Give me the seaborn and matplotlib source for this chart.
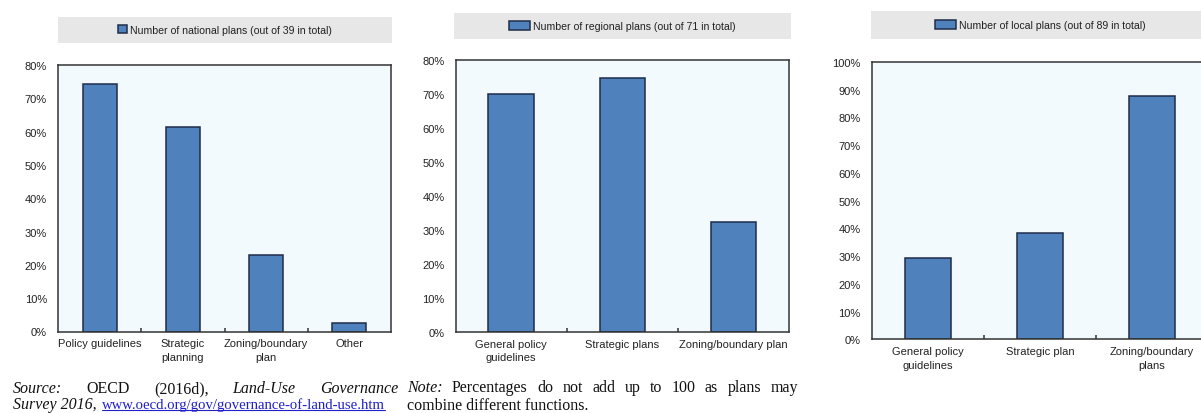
import matplotlib
matplotlib.use("Agg")
import matplotlib.pyplot as plt
import seaborn as sns
import pandas as pd
from matplotlib.patches import Rectangle
from matplotlib.lines import Line2D
from matplotlib.ticker import PercentFormatter

# Share of plans by function (%)
national_cats = ["Policy guidelines", "Strategic\nplanning", "Zoning/boundary\nplan", "Other"]
national_vals = [74.4, 61.5, 23.1, 2.6]
national_label = "Number of national plans (out of 39 in total)"

regional_cats = ["General policy\nguidelines", "Strategic plans", "Zoning/boundary plan"]
regional_vals = [69.9, 74.6, 32.4]
regional_label = "Number of regional plans (out of 71 in total)"

local_cats = ["General policy\nguidelines", "Strategic plan", "Zoning/boundary\nplans"]
local_vals = [29.2, 38.2, 87.6]
local_label = "Number of local plans (out of 89 in total)"

sns.set_theme(style="white")
plt.rcParams["font.family"] = ["Liberation Sans", "DejaVu Sans"]

W, H = 1201, 414
fig = plt.figure(figsize=(W / 100, H / 100), dpi=100)
fig.patch.set_facecolor("white")
renderer = fig.canvas.get_renderer()

BAR = "#4F81BD"
EDGE = "#1E2D4A"
FACE = "#F3FAFE"
BAND = "#E7E7E7"
FS = 8
LEG_FS = 7.6


def px_axes(left, right, top, bottom):
    return fig.add_axes([left / W, 1 - bottom / H, (right - left) / W, (bottom - top) / H])


def panel(ax, cats, vals, label, ymax, ystep, band, handle):
    df = pd.DataFrame({"cat": cats, "val": vals})
    sns.barplot(data=df, x="cat", y="val", ax=ax, color=BAR, width=0.41,
                edgecolor=EDGE, linewidth=1.1, label=label, saturation=1)
    ax.set_facecolor(FACE)
    ax.set_xlim(-0.5, len(cats) - 0.5)
    ax.set_ylim(0, ymax)
    ax.set_yticks(range(0, ymax + 1, ystep))
    ax.yaxis.set_major_formatter(PercentFormatter(decimals=0))
    ax.set_xlabel("")
    ax.set_ylabel("")
    for s in ax.spines.values():
        s.set_color("#333333")
        s.set_linewidth(1.1)
    ax.tick_params(axis="y", length=0, pad=8, labelsize=FS, labelcolor="#222222")
    ax.tick_params(axis="x", which="major", length=0, pad=5, labelsize=FS, labelcolor="#222222")
    for t in ax.get_xticklabels():
        t.set_linespacing(1.45)
    ax.set_xticks([i + 0.5 for i in range(len(cats) - 1)], minor=True)
    ax.tick_params(axis="x", which="minor", direction="in", length=3, width=1.1,
                   color="#333333", bottom=True)

    # grey legend band above the plot area
    bl, br, bt, bb = band
    fig.patches.append(Rectangle((bl / W, 1 - bb / H), (br - bl) / W, (bb - bt) / H,
                                 transform=fig.transFigure, facecolor=BAND,
                                 edgecolor="none", zorder=-5))
    ax_center = (bl + br) / 2
    leg = ax.legend(loc="center", bbox_to_anchor=(ax_center / W, 1 - (bt + bb) / 2 / H),
                    bbox_transform=fig.transFigure, frameon=False, fontsize=LEG_FS,
                    handlelength=handle[0], handleheight=handle[1], handletextpad=0.3,
                    borderpad=0)
    for t in leg.get_texts():
        t.set_color("#222222")


ax1 = px_axes(58, 391, 66, 332.5)
panel(ax1, national_cats, national_vals, national_label, 80, 10,
      (58, 392, 18, 44), (0.8, 0.8))

ax2 = px_axes(455.7, 789, 61, 332.7)
panel(ax2, regional_cats, regional_vals, regional_label, 80, 10,
      (454, 791, 14, 40), (2.0, 0.9))

ax3 = px_axes(871.7, 1208, 63, 340.3)
panel(ax3, local_cats, local_vals, local_label, 100, 10,
      (871, 1209, 12, 40), (2.0, 0.9))

# Footnotes in a justified serif block
serif = ["Liberation Serif", "DejaVu Serif"]
NOTE_FS = 11.5


def word(x, y, s, style="normal", color="#111111", size=NOTE_FS):
    return fig.text(x / W, 1 - y / H, s, family=serif, fontsize=size, style=style,
                    color=color, va="center", ha="left")


def justified(words, x0, x1, y):
    texts = [word(x0, y, s, style=st) for s, st in words]
    widths = [t.get_window_extent(renderer).width for t in texts]
    gap = (x1 - x0 - sum(widths)) / (len(texts) - 1)
    x = x0
    for t, w in zip(texts, widths):
        t.set_x(x / W)
        x += w + gap


y1, y2 = 389, 405
justified([("Source:", "italic"), ("OECD", "normal"), ("(2016d),", "normal"),
           ("Land-Use", "italic"), ("Governance", "italic")], 13, 398, y1)
word(13, y2, "Survey 2016,", style="italic")
url = word(102, y2, "www.oecd.org/gov/governance-of-land-use.htm", color="#1F1FCC", size=10.6)
ext = url.get_window_extent(renderer)
fig.add_artist(Line2D([ext.x0 / W, ext.x1 / W], [(ext.y0 + 1) / H, (ext.y0 + 1) / H],
                      transform=fig.transFigure, color="#1F1FCC", linewidth=0.8))

n1, n2 = 388, 406
justified([("Note:", "italic"), ("Percentages", "normal"), ("do", "normal"),
           ("not", "normal"), ("add", "normal"), ("up", "normal"), ("to", "normal"),
           ("100", "normal"), ("as", "normal"), ("plans", "normal"), ("may", "normal")],
          407, 798, n1)
word(407, n2, "combine different functions.")

fig.savefig("out.png", dpi=100, facecolor="white")
